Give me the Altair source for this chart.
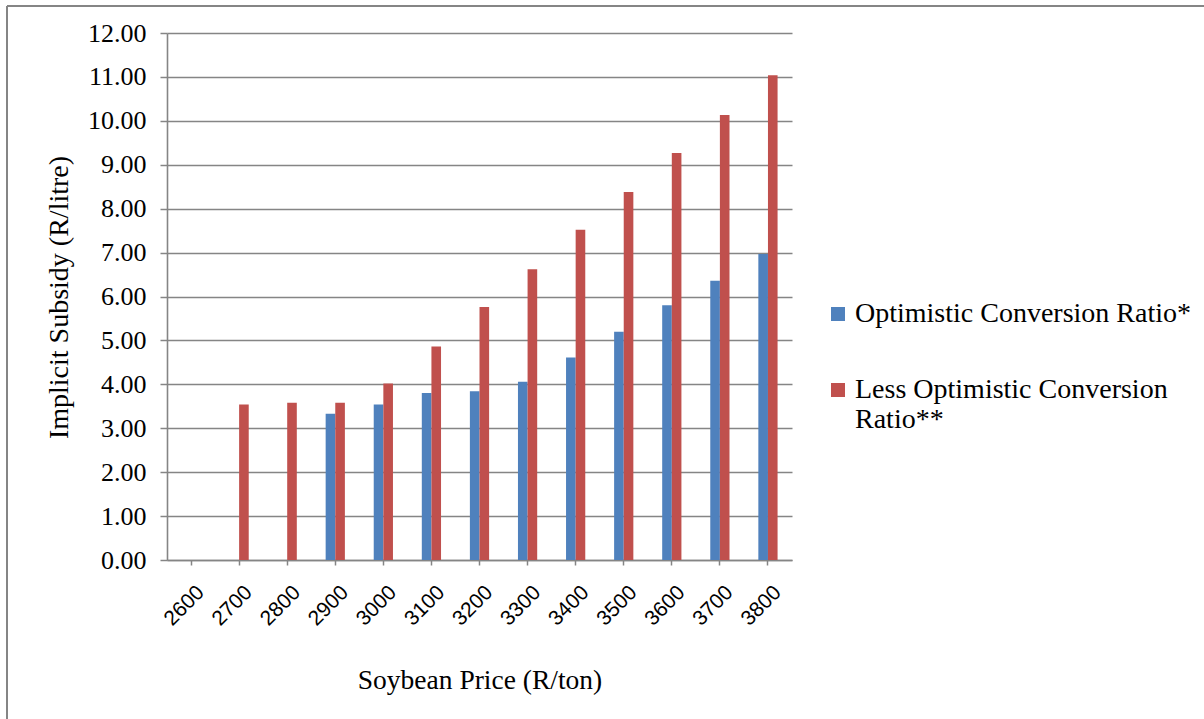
import altair as alt
import pandas as pd

# Soybean price scenarios (R/ton) and implied subsidy (R/litre) per conversion ratio
prices = [2600, 2700, 2800, 2900, 3000, 3100, 3200, 3300, 3400, 3500, 3600, 3700, 3800]
optimistic = [None, None, None, 3.33, 3.54, 3.80, 3.84, 4.06, 4.61, 5.20, 5.80, 6.36, 6.97]
less_optimistic = [None, 3.54, 3.58, 3.58, 4.02, 4.86, 5.76, 6.62, 7.52, 8.38, 9.27, 10.13, 11.04]

series_names = ["Optimistic Conversion Ratio*", "Less Optimistic Conversion Ratio**"]
series_colors = ["#4F81BD", "#C0504D"]
y_ticks = list(range(0, 13))

rows = []
for p, a, b in zip(prices, optimistic, less_optimistic):
    rows.append({"price": str(p), "series": series_names[0], "value": a})
    rows.append({"price": str(p), "series": series_names[1], "value": b})
df = pd.DataFrame(rows)

GRID = "#858585"
SERIF = "Liberation Serif"

bars = alt.Chart(df).mark_bar().encode(
    x=alt.X(
        "price:N",
        sort=[str(p) for p in prices],
        scale=alt.Scale(paddingInner=0.6, paddingOuter=0.3),
        axis=alt.Axis(
            title="Soybean Price (R/ton)",
            labelAngle=-45,
            labelAlign="right",
            labelBaseline="middle",
            labelFont="Liberation Sans",
            labelFontSize=21,
            labelPadding=24,
            labelOffset=10,
            tickSize=5,
            titleY=120,
            titleBaseline="middle",
            titleFontSize=27.5,
        ),
    ),
    xOffset=alt.XOffset("series:N", sort=series_names),
    y=alt.Y(
        "value:Q",
        scale=alt.Scale(domain=[0, 12], nice=False),
        axis=alt.Axis(
            title="Implicit Subsidy (R/litre)",
            values=y_ticks,
            format=".2f",
            labelFont=SERIF,
            labelFontSize=26,
            labelPadding=14,
            tickSize=7,
            titleX=-108,
            titleY=264,
            titleBaseline="middle",
            titleAngle=270,
            titleFontSize=28,
        ),
    ),
    color=alt.Color(
        "series:N",
        sort=series_names,
        scale=alt.Scale(domain=series_names, range=series_colors),
        legend=alt.Legend(
            title=None,
            orient="none",
            legendX=657,
            legendY=267,
            symbolType="square",
            symbolSize=196,
            symbolStrokeWidth=0,
            labelFont=SERIF,
            labelFontSize=28,
            labelLimit=420,
            rowPadding=48,
            labelOffset=3,
            labelExpr="datum.label == 'Less Optimistic Conversion Ratio**' ? ['Less Optimistic Conversion', 'Ratio**'] : datum.label",
        ),
    ),
)

# Outer frame around the whole figure
frame_data = pd.DataFrame({"k": [0]})
frame_left = alt.Chart(frame_data).mark_rule(color=GRID, strokeWidth=2).encode(
    x=alt.value(-160), y=alt.value(-27), y2=alt.value(720)
)
frame_top = alt.Chart(frame_data).mark_rule(color=GRID, strokeWidth=2).encode(
    x=alt.value(-160), x2=alt.value(1100), y=alt.value(-27)
)

chart = (
    alt.layer(bars, frame_left, frame_top)
    .properties(
        width=625,
        height=527,
        autosize=alt.AutoSizeParams(type="none"),
        padding={"left": 167, "top": 33, "right": 412, "bottom": 159},
        background="white",
    )
    .configure_view(stroke=None)
    .configure_axis(
        grid=True,
        gridColor=GRID,
        gridWidth=1.4,
        domainColor=GRID,
        domainWidth=1.6,
        tickColor=GRID,
        tickWidth=1.5,
        labelColor="black",
        titleColor="black",
        titleFont=SERIF,
        titleFontWeight="normal",
    )
    .configure_axisX(grid=False)
    .configure_legend(labelColor="black")
)

chart.save("out.html", embed_options={"renderer": "svg", "actions": False})
